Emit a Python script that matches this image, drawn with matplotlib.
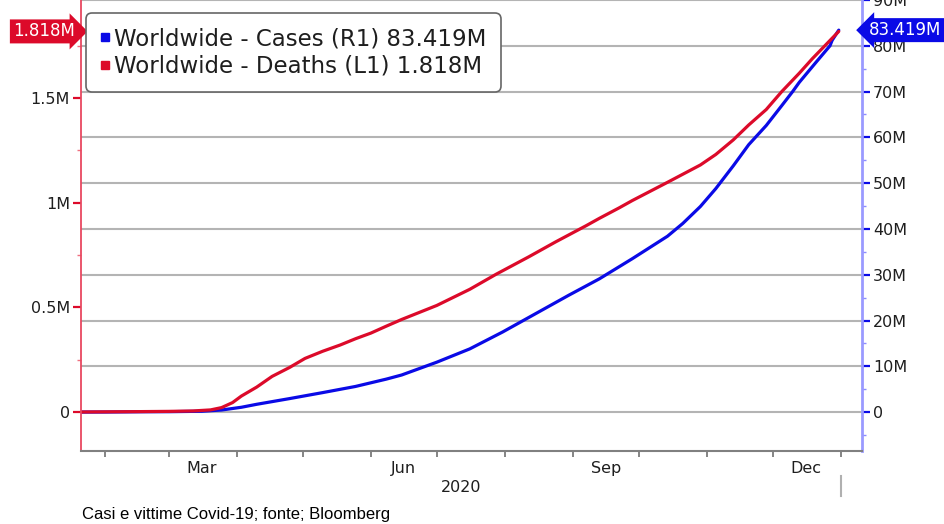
import numpy as np
import pandas as pd
import matplotlib
matplotlib.use("Agg")
import matplotlib.pyplot as plt
import matplotlib.dates as mdates
from matplotlib.lines import Line2D
from matplotlib.ticker import MultipleLocator, FuncFormatter

# cumulative deaths worldwide, millions (left axis)
death_dates = ["2020-01-21", "2020-02-15", "2020-03-01", "2020-03-12", "2020-03-20",
               "2020-03-25", "2020-03-30", "2020-04-03", "2020-04-10", "2020-04-17",
               "2020-04-25", "2020-05-02", "2020-05-10", "2020-05-18", "2020-05-25",
               "2020-06-01", "2020-06-08", "2020-06-15", "2020-07-01", "2020-07-16",
               "2020-07-28", "2020-08-12", "2020-08-24", "2020-09-07", "2020-09-13",
               "2020-09-22", "2020-09-28", "2020-10-14", "2020-10-29", "2020-11-05",
               "2020-11-13", "2020-11-20", "2020-11-28", "2020-12-05", "2020-12-13",
               "2020-12-19", "2020-12-25", "2020-12-31"]
deaths = [0.0, 0.0017, 0.003, 0.005, 0.010,
          0.021, 0.045, 0.076, 0.119, 0.170,
          0.213, 0.256, 0.290, 0.320, 0.350,
          0.377, 0.410, 0.442, 0.509, 0.586,
          0.658, 0.742, 0.812, 0.890, 0.925,
          0.975, 1.010, 1.097, 1.180, 1.230,
          1.300, 1.371, 1.445, 1.530, 1.618,
          1.688, 1.753, 1.818]

# cumulative cases worldwide, millions (right axis)
case_dates = ["2020-01-21", "2020-02-01", "2020-02-19", "2020-03-01", "2020-03-16",
              "2020-03-25", "2020-04-03", "2020-04-10", "2020-04-25", "2020-05-10",
              "2020-05-25", "2020-06-08", "2020-06-15", "2020-07-01", "2020-07-16",
              "2020-07-31", "2020-08-15", "2020-08-30", "2020-09-13", "2020-09-28",
              "2020-10-14", "2020-10-21", "2020-10-29", "2020-11-05", "2020-11-13",
              "2020-11-20", "2020-11-28", "2020-12-05", "2020-12-10", "2020-12-13",
              "2020-12-21", "2020-12-27", "2020-12-28", "2020-12-31"]
cases = [0.0003, 0.012, 0.075, 0.088, 0.18,
         0.45, 1.05, 1.7, 2.95, 4.25,
         5.6, 7.2, 8.1, 10.9, 13.8,
         17.5, 21.5, 25.5, 29.1, 33.5,
         38.4, 41.2, 44.9, 48.8, 53.8,
         58.4, 62.6, 66.9, 70.0, 72.0,
         76.6, 80.0, 81.2, 83.419]

month_labels = ["Mar", "Jun", "Sep", "Dec"]
year_label = "2020"
caption = "Casi e vittime Covid-19; fonte; Bloomberg"

RED = "#dc0a2a"
BLUE = "#0a0ae6"
TXT = "#1e1e1e"

dd = pd.to_datetime(death_dates)
cd = pd.to_datetime(case_dates)

fig = plt.figure(figsize=(9.45, 5.24), dpi=100)
ax = fig.add_axes([81 / 945, 73 / 524, 781 / 945, 451 / 524])
ax2 = ax.twinx()
# deaths axis on top so the red line sits over the grid and the blue line
ax.set_zorder(ax2.get_zorder() + 1)
ax.patch.set_visible(False)

ax2.plot(cd, cases, color=BLUE, lw=2.3, solid_capstyle="round")
ax.plot(dd, deaths, color=RED, lw=2.3, solid_capstyle="round")

ax.set_xlim(pd.Timestamp("2020-01-21"), pd.Timestamp("2021-01-10 14:00"))
ax.set_ylim(-0.1863, 1.968)
ax2.set_ylim(-8.5, 90.0)

def fmt_m(v, pos):
    if abs(v) < 1e-9:
        return "0"
    return f"{v:g}M"

ax.yaxis.set_major_locator(MultipleLocator(0.5))
ax.yaxis.set_minor_locator(MultipleLocator(0.25))
ax.yaxis.set_major_formatter(FuncFormatter(fmt_m))
ax2.yaxis.set_major_locator(MultipleLocator(10))
ax2.yaxis.set_minor_locator(MultipleLocator(5))
ax2.yaxis.set_major_formatter(FuncFormatter(fmt_m))

ax.tick_params(axis="y", which="major", length=6, width=1.6, color=RED,
               labelcolor=TXT, labelsize=11.5, pad=2)
ax.tick_params(axis="y", which="minor", length=3, width=1, color="#f07080")
ax2.tick_params(axis="y", which="major", length=6, width=1.6, color=BLUE,
                labelcolor=TXT, labelsize=11.5, pad=2)
ax2.tick_params(axis="y", which="minor", length=3, width=1, color="#8c8cff")

# month boundaries as ticks, quarter names centred in the month
ax.xaxis.set_major_locator(mdates.MonthLocator())
ax.xaxis.set_major_formatter(plt.NullFormatter())
ax.xaxis.set_minor_locator(mdates.MonthLocator(bymonth=[3, 6, 9, 12], bymonthday=16))
ax.xaxis.set_minor_formatter(FuncFormatter(
    lambda v, pos: month_labels[[3, 6, 9, 12].index(mdates.num2date(v).month)]))
ax.tick_params(axis="x", which="major", length=4, width=1.2, color="#707070")
ax.tick_params(axis="x", which="minor", length=0, labelsize=11.5, labelcolor=TXT, pad=7)

ax2.yaxis.grid(True, color="#b4b4b4", lw=1.5)

for a in (ax, ax2):
    for s in a.spines.values():
        s.set_visible(False)
ax.spines["left"].set_visible(True)
ax.spines["left"].set_color("#e84860")
ax.spines["left"].set_linewidth(1.3)
ax2.spines["right"].set_visible(True)
ax2.spines["right"].set_color("#9a9aff")
ax2.spines["right"].set_linewidth(2)
ax.spines["bottom"].set_visible(True)
ax.spines["bottom"].set_color("#808080")
ax.spines["bottom"].set_linewidth(1.5)

# year label and year separator below the axis
yend = mdates.date2num(pd.Timestamp("2021-01-01"))
x0 = ax.get_xlim()[0]
ax.text((x0 + yend) / 2, -0.080, year_label, transform=ax.get_xaxis_transform(),
        ha="center", va="center", fontsize=11.5, color=TXT)
ax.plot([yend, yend], [-0.055, -0.1], transform=ax.get_xaxis_transform(),
        color="#b0b0b0", lw=1.5, clip_on=False)

# last value badges
ax.text(-0.008, deaths[-1], f"{deaths[-1]:.3f}M", transform=ax.get_yaxis_transform(),
        ha="right", va="center", fontsize=12, color="white",
        bbox=dict(boxstyle="rarrow,pad=0.18", fc=RED, ec="none"))
ax2.text(1.009, cases[-1], f"{cases[-1]:.3f}M", transform=ax2.get_yaxis_transform(),
         ha="left", va="center", fontsize=12, color="white",
         bbox=dict(boxstyle="larrow,pad=0.18", fc=BLUE, ec="none"))

handles = [Line2D([], [], marker="s", ls="none", color=BLUE, markersize=5.5),
           Line2D([], [], marker="s", ls="none", color=RED, markersize=5.5)]
labels = [f"Worldwide - Cases (R1) {cases[-1]:.3f}M",
          f"Worldwide - Deaths (L1) {deaths[-1]:.3f}M"]
leg = ax.legend(handles, labels, loc="upper left", bbox_to_anchor=(86 / 945, 1 - 13 / 524),
                bbox_transform=fig.transFigure, borderaxespad=0, fontsize=16.5,
                handlelength=0.4, handletextpad=0.2, labelspacing=0.2,
                borderpad=0.62, frameon=True, fancybox=True, labelcolor=TXT,
                framealpha=1)
leg.get_frame().set_edgecolor("#666666")
leg.get_frame().set_linewidth(1.2)
leg.get_frame().set_boxstyle("round,pad=0,rounding_size=0.25")

fig.text(82 / 945, 1 - 515 / 524, caption, family="Liberation Sans", fontsize=12,
         ha="left", va="center", color="black")

fig.savefig("out.png", dpi=100)
